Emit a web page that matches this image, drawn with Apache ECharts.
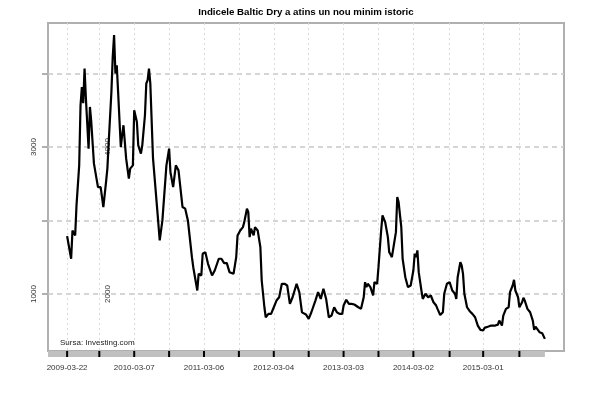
<!DOCTYPE html>
<html><head><meta charset="utf-8">
<script src="https://cdn.jsdelivr.net/npm/echarts@6/dist/echarts.min.js"></script>
<style>html,body{margin:0;padding:0;background:#fff}#c{width:600px;height:396px}</style>
</head><body><div id="c"></div>
<script>
const titleText = 'Indicele Baltic Dry a atins un nou minim istoric';
const sourceText = 'Sursa: Investing.com';
const startDate = '2009-03-22';
// weekly observations: week offset from startDate
const weekIdx = [0,3,4,6,7,9,10,11,12,13,14,16,17,18,19,20,21,23,24,25,26,27,29,30,31,33,34,35,36,37,38,40,41,42,44,45,46,47,49,50,52,53,55,56,58,59,60,61,62,64,67,69,71,74,75,76,77,79,81,83,86,88,90,93,94,97,98,100,101,103,105,108,110,111,113,115,117,119,121,124,126,127,129,131,132,134,135,136,137,139,140,142,144,145,147,148,150,152,154,156,158,160,162,164,166,168,171,173,175,178,180,182,185,187,189,191,192,193,195,197,199,201,203,205,206,208,210,212,214,217,219,221,222,223,224,226,227,228,229,231,232,234,235,237,239,240,241,242,243,245,246,247,248,249,250,252,254,256,258,259,260,261,262,264,265,267,269,271,273,274,275,276,278,280,281,283,285,287,289,290,291,293,294,295,296,298,300,302,304,306,308,310,311,314,316,319,321,322,324,325,327,329,330,332,333,334,336,337,339,340,341,343,345,347,348,349,350,352,354,356];
const bdiValues = [1787,1480,1865,1797,2206,2750,3568,3817,3595,4068,3660,2978,3545,3341,3364,2774,2750,2455,2433,2455,2319,2183,2523,2706,3068,3749,4226,4522,4000,4113,3749,3000,3159,3296,2842,2706,2569,2706,2750,3500,3341,3023,2910,3023,3432,3864,3909,4068,3864,2850,2183,1729,2001,2750,2727,2978,2659,2455,2750,2682,2183,2161,2001,1501,1365,1048,1275,1252,1548,1570,1411,1252,1320,1320,1480,1480,1420,1420,1297,1275,1501,1797,1865,1910,1978,2161,2114,1774,1888,1797,1910,1865,1638,1184,820,684,730,730,820,911,956,1139,1139,1116,866,956,1139,1025,750,721,662,752,911,1025,934,1071,1071,934,684,707,820,752,730,730,843,921,866,866,857,820,798,956,1161,1093,1139,1093,1116,980,1161,1139,1365,1865,2069,1978,1774,1570,1538,1501,1480,1842,2319,2251,2274,1910,1480,1229,1093,1116,1320,1548,1501,1593,1297,1048,934,1003,956,980,888,911,843,798,715,752,1003,1139,1161,1048,1003,934,1229,1433,1388,1275,1003,820,766,730,684,571,512,503,539,557,571,571,584,639,571,707,798,820,1025,1116,1193,1048,956,820,888,948,911,798,752,639,512,557,539,480,466,390];
const tickDates = ['2009-03-22','2009-09-06','2010-03-07','2010-09-05','2011-03-06','2011-09-04','2012-03-04','2012-09-02','2013-03-03','2013-09-01','2014-03-02','2014-09-07','2015-03-01','2015-09-06'];
const labelDates = ['2009-03-22','2010-03-07','2011-03-06','2012-03-04','2013-03-03','2014-03-02','2015-03-01'];
const yTicks = [1000,2000,3000,4000];
const yLabelsOuter = [1000,3000];
const yLabelsInner = [2000,4000];

const DAY = 86400000;
function ts(s){const p=s.split('-').map(Number);return Date.UTC(p[0],p[1]-1,p[2]);}
function fmt(v){const d=new Date(v);const p=n=>String(n).padStart(2,'0');return d.getUTCFullYear()+'-'+p(d.getUTCMonth()+1)+'-'+p(d.getUTCDate());}
const t0 = ts(startDate);
const seriesData = weekIdx.map((w,i)=>[t0+w*7*DAY, bdiValues[i]]);
const xFirst = seriesData[0][0], xLast = seriesData[seriesData.length-1][0];
const xPad = 0.04*(xLast-xFirst);
const xMin = xFirst-xPad, xMax = xLast+xPad;
const vMin = Math.min(...bdiValues), vMax = Math.max(...bdiValues);
const yPad = 0.04*(vMax-vMin);
const yMin = vMin-yPad, yMax = vMax+yPad;
const tickTs = tickDates.map(ts), labelTs = labelDates.map(ts);

const W=600, L=48, R=36, T=23, B=45;
const plotW = W-L-R;
const FONT = 'Liberation Sans, Arial, Helvetica, sans-serif';

// band + tick marks drawn under the plot, positioned through the x scale
function renderRug(params, api){
  const yBase = api.coord([xMin, yMin])[1];
  const x0 = api.coord([xMin, yMin])[0];
  const x1 = api.coord([xLast, yMin])[0];
  const children = [{type:'rect',shape:{x:x0,y:yBase,width:x1-x0,height:6},style:{fill:'#c0c0c0'}}];
  tickTs.forEach(t=>{
    const x = api.coord([t, yMin])[0];
    children.push({type:'rect',shape:{x:x-1,y:yBase,width:2,height:6},style:{fill:'#000'}});
  });
  return {type:'group',children};
}

const chart = echarts.init(document.getElementById('c'), null, {renderer:'canvas'});
chart.setOption({
  animation:false,
  backgroundColor:'#fff',
  grid:{left:L,right:R,top:T,bottom:B,show:true,borderColor:'#b0b0b0',borderWidth:2},
  xAxis:{type:'value',min:xMin,max:xMax,scale:true,
     axisLine:{show:false},
     axisTick:{show:false,customValues:tickTs},
     axisLabel:{customValues:labelTs,formatter:v=>fmt(v),margin:13,fontSize:8,color:'#333',fontFamily:FONT,hideOverlap:false},
     splitLine:{show:true,lineStyle:{color:'#dadada',width:1,type:[2,3]}}},
  yAxis:[
    {type:'value',min:yMin,max:yMax,scale:true,
     axisLine:{show:false},
     axisTick:{show:true,length:6,customValues:yTicks,lineStyle:{color:'#b0b0b0',width:2}},
     axisLabel:{customValues:yLabelsOuter,rotate:90,margin:10,fontSize:8,color:'#333',fontFamily:FONT,formatter:v=>String(v)},
     splitLine:{show:true,lineStyle:{color:'#c8c8c8',width:1.5,type:[5,4]}}},
    {type:'value',min:yMin+1000,max:yMax+1000,scale:true,position:'left',offset:-64,
     axisLine:{show:false},axisTick:{show:false},splitLine:{show:false},
     axisLabel:{customValues:yLabelsInner,rotate:90,margin:0,fontSize:8,color:'#333',fontFamily:FONT,formatter:v=>String(v)}}
  ],
  series:[
    {type:'line',xAxisIndex:0,yAxisIndex:0,data:seriesData,showSymbol:false,
     lineStyle:{color:'#000',width:2.2},z:5},
    {type:'custom',xAxisIndex:0,yAxisIndex:0,data:[[xMin,yMin]],renderItem:renderRug,clip:false,silent:true,z:1}
  ],
  graphic:[
    {type:'text',x:L+plotW/2,y:12,style:{text:titleText,textAlign:'center',textVerticalAlign:'middle',font:'bold 9.7px '+FONT,fill:'#000'}},
    {type:'text',x:60,y:343,style:{text:sourceText,textAlign:'left',textVerticalAlign:'middle',font:'8px '+FONT,fill:'#222'},z:10}
  ]
});
</script>
</body></html>
